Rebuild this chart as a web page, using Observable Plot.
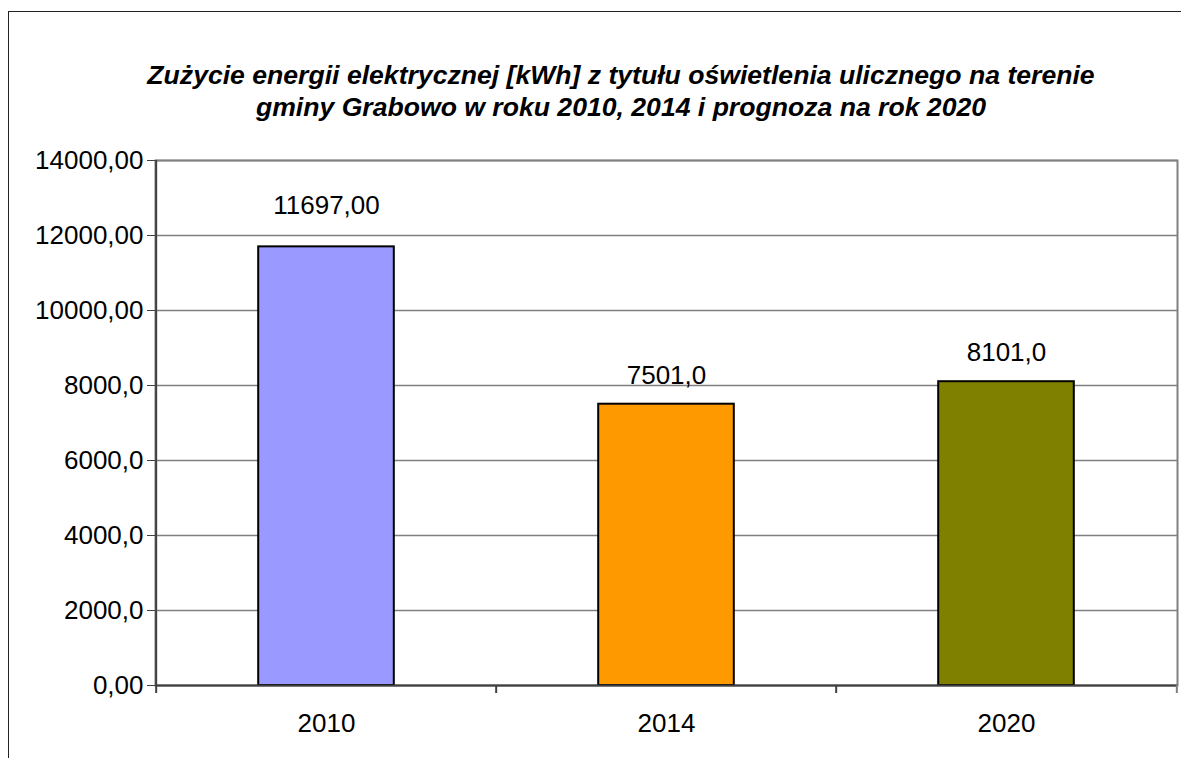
<!DOCTYPE html>
<html>
<head>
<meta charset="utf-8">
<script src="https://cdn.jsdelivr.net/npm/d3@7"></script>
<script src="https://cdn.jsdelivr.net/npm/@observablehq/plot@0.6"></script>
<style>
  html, body { margin: 0; padding: 0; background: #fff; }
  #wrap { position: relative; width: 1181px; height: 758px; overflow: hidden; background: #fff;
          font-family: "Liberation Sans", Arial, sans-serif; }
  #border { position: absolute; left: 8px; top: 11px; width: 1300px; height: 900px;
            border: 1.5px solid #222; box-sizing: border-box; z-index: 2; pointer-events: none; }
  #title { position: absolute; left: 0; top: 59px; width: 1242px; text-align: center;
           font-weight: bold; font-style: italic; font-size: 26.6px; line-height: 32px; color: #000; }
  #chart { position: absolute; left: 0; top: 140px; z-index: 1; }
</style>
</head>
<body>
<div id="wrap">
  <div id="title">Zużycie energii elektrycznej [kWh] z tytułu oświetlenia ulicznego na terenie<br>gminy Grabowo w roku 2010, 2014 i prognoza na rok 2020</div>
  <div id="chart"></div>
  <div id="border"></div>
</div>
<script>
const years = ["2010", "2014", "2020"];
const values = [11697, 7501, 8101];
const valueLabels = ["11697,00", "7501,0", "8101,0"];
const colors = ["#9999FF", "#FF9900", "#808000"];
const yTicks = [0, 2000, 4000, 6000, 8000, 10000, 12000, 14000];
const yTickLabels = ["0,00", "2000,0", "4000,0", "6000,0", "8000,0", "10000,00", "12000,00", "14000,00"];

const data = years.map((y, i) => ({year: y, value: values[i], label: valueLabels[i], color: colors[i]}));

const W = 1181, H = 618;
const mL = 155, mR = 4, mT = 20, mB = 73;
const band = (W - mL - mR) / years.length;
const barInset = band * 0.3;

const plot = Plot.plot({
  width: W,
  height: H,
  marginLeft: mL,
  marginRight: mR,
  marginTop: mT,
  marginBottom: mB,
  style: {fontFamily: "'Liberation Sans', Arial, sans-serif", fontSize: "26px", color: "#000", background: "transparent"},
  x: {type: "band", domain: years, padding: 0, label: null},
  y: {domain: [0, 14000], label: null},
  marks: [
    Plot.gridY(yTicks, {stroke: "#808080", strokeOpacity: 1, strokeWidth: 1.5}),
    Plot.frame({stroke: "#808080", strokeWidth: 2}),
    Plot.barY(data, {x: "year", y: "value", fill: "color", stroke: "#000", strokeWidth: 2,
                     insetLeft: barInset, insetRight: barInset}),
    Plot.ruleY([0], {stroke: "#404040", strokeWidth: 2}),
    Plot.ruleX([years[0]], {x: d => d, dx: -band / 2, y1: 14000, y2: 0, insetBottom: -8, stroke: "#404040", strokeWidth: 2}),
    Plot.ruleX(years.slice(1), {x: d => d, dx: -band / 2, y1: 0, y2: 0, insetBottom: -8, stroke: "#404040", strokeWidth: 2}),
    Plot.ruleX([years[years.length - 1]], {x: d => d, dx: band / 2, y1: 0, y2: 0, insetBottom: -8, stroke: "#808080", strokeWidth: 2}),
    Plot.text(data.slice(0, 1), {x: "year", y: "value", text: "label", dy: -41, fill: "#000"}),
    Plot.text(data.slice(1), {x: "year", y: "value", text: "label", dy: -29, fill: "#000"}),
    Plot.axisY({ticks: yTicks, tickSize: 8, tickPadding: 4, stroke: "#404040", fill: "#000",
                tickFormat: d => yTickLabels[yTicks.indexOf(d)], label: null}),
    Plot.axisX({tickSize: 0, tickPadding: 28, fill: "#000", label: null})
  ]
});
document.getElementById("chart").appendChild(plot);
</script>
</body>
</html>
